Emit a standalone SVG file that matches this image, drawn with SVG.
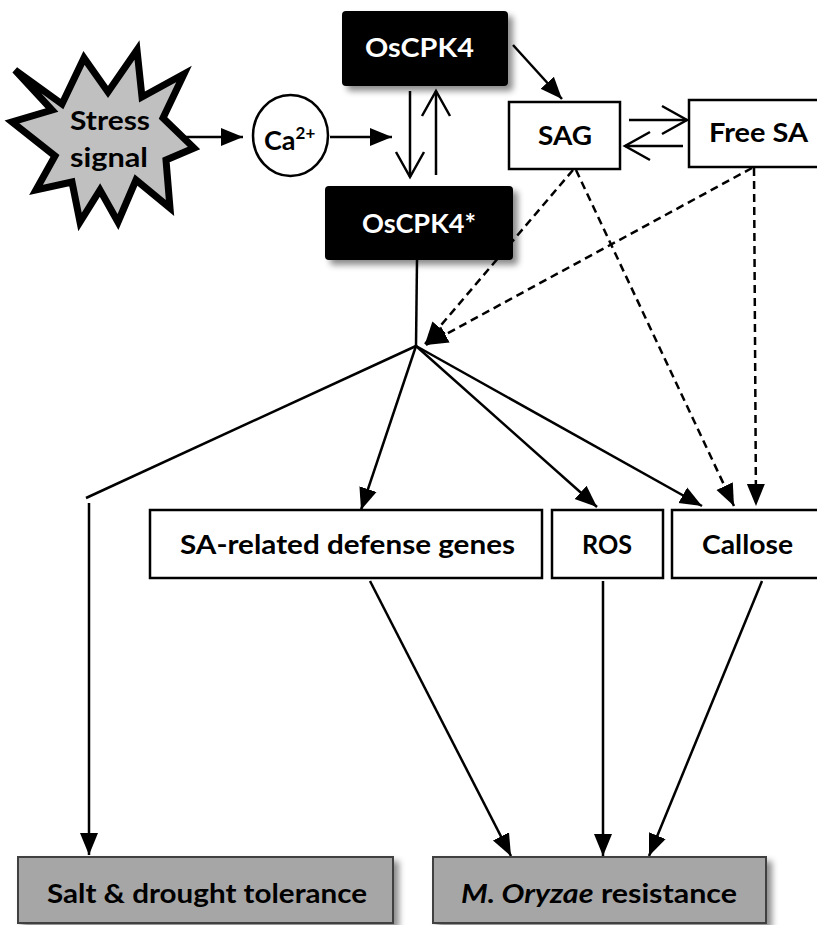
<svg xmlns="http://www.w3.org/2000/svg" width="817" height="925" viewBox="0 0 817 925">
<defs>
<style>
text{font-family:Lato,"Liberation Sans",sans-serif;font-weight:bold;font-size:27px;fill:#000}
.w{fill:#fff}
.box{fill:#fff;stroke:#000;stroke-width:2.5}
.blk{fill:#000;stroke:none}
.gry{fill:#a6a6a6;stroke:#404040;stroke-width:2}
.ln{fill:none;stroke:#000;stroke-width:2.5}
.ds{fill:none;stroke:#000;stroke-width:2.5;stroke-dasharray:8 5}
</style>
<marker id="ah" markerUnits="userSpaceOnUse" markerWidth="24" markerHeight="20" refX="22" refY="10" orient="auto" viewBox="0 0 24 20">
<path d="M0,1 L22,10 L0,19 z" fill="#000"/>
</marker>
<filter id="sh" x="-20%" y="-20%" width="150%" height="160%">
<feGaussianBlur in="SourceAlpha" stdDeviation="3"/>
<feOffset dx="5" dy="5" result="b"/>
<feFlood flood-color="#000" flood-opacity="0.45"/>
<feComposite in2="b" operator="in"/>
<feMerge><feMergeNode/><feMergeNode in="SourceGraphic"/></feMerge>
</filter>
</defs>
<rect width="817" height="925" fill="#fff"/>

<g id="connectors">
<line class="ln" x1="182" y1="137" x2="243" y2="137" marker-end="url(#ah)"/>
<line class="ln" x1="330" y1="137" x2="392" y2="137" marker-end="url(#ah)"/>
<polyline class="ln" points="410,91 410,177"/>
<polyline class="ln" points="396,152 410,177 424,152"/>
<polyline class="ln" points="436,175 436,91"/>
<polyline class="ln" points="422,116 436,91 450,116"/>
<line class="ln" x1="513" y1="45" x2="562" y2="99" marker-end="url(#ah)"/>
<polyline class="ln" points="629,120 687,120"/>
<polyline class="ln" points="662,106 687,120 662,134"/>
<polyline class="ln" points="683,146 625,146"/>
<polyline class="ln" points="650,132 625,146 650,160"/>
<line class="ds" x1="573" y1="170" x2="425" y2="344" marker-end="url(#ah)"/>
<line class="ds" x1="752" y1="168" x2="426" y2="345" marker-end="url(#ah)"/>
<line class="ds" x1="576" y1="170" x2="734" y2="506" marker-end="url(#ah)"/>
<line class="ds" x1="754" y1="168" x2="756" y2="506" marker-end="url(#ah)"/>
<line class="ln" x1="417" y1="260" x2="416" y2="346"/>
<line class="ln" x1="416" y1="346" x2="86" y2="498"/>
<line class="ln" x1="89" y1="503" x2="89" y2="855" marker-end="url(#ah)"/>
<line class="ln" x1="416" y1="346" x2="361" y2="510" marker-end="url(#ah)"/>
<line class="ln" x1="416" y1="346" x2="597" y2="507" marker-end="url(#ah)"/>
<line class="ln" x1="416" y1="346" x2="702" y2="506" marker-end="url(#ah)"/>
<line class="ln" x1="370" y1="581" x2="511" y2="856" marker-end="url(#ah)"/>
<line class="ln" x1="603" y1="581" x2="603" y2="856" marker-end="url(#ah)"/>
<line class="ln" x1="762" y1="581" x2="649" y2="856" marker-end="url(#ah)"/>
</g>

<g id="stress">
<polygon points="15,70 62,104 84,58 108,92 137,50 142,97 184,74 163,118 194,148 166,160 170,208 136,180 118,222 100,190 80,222 72,182 36,190 55,156 12,122 52,110" fill="#c0c0c0" stroke="#000" stroke-width="7" stroke-linejoin="miter"/>
<text x="110" y="130" text-anchor="middle" textLength="80" lengthAdjust="spacingAndGlyphs">Stress</text>
<text x="109" y="167" text-anchor="middle" textLength="78" lengthAdjust="spacingAndGlyphs">signal</text>
</g>

<g id="ca">
<ellipse cx="290.5" cy="135.5" rx="37.5" ry="40.5" fill="#fff" stroke="#000" stroke-width="2.5"/>
<text x="264" y="150">Ca<tspan font-size="17" dy="-11">2+</tspan></text>
</g>

<g id="oscpk4">
<rect class="blk" x="342" y="11" width="166" height="75" rx="4" filter="url(#sh)"/>
<text class="w" x="419.5" y="57" text-anchor="middle" textLength="109" lengthAdjust="spacingAndGlyphs">OsCPK4</text>
</g>

<g id="oscpk4star">
<rect class="blk" x="325" y="186" width="188" height="74" rx="4" filter="url(#sh)"/>
<text class="w" x="419" y="233" text-anchor="middle" textLength="114" lengthAdjust="spacingAndGlyphs">OsCPK4*</text>
</g>

<g id="sag">
<rect class="box" x="509" y="102" width="111" height="67"/>
<text x="565" y="145" text-anchor="middle" textLength="54" lengthAdjust="spacingAndGlyphs">SAG</text>
</g>

<g id="freesa">
<rect class="box" x="689" y="100" width="140" height="67"/>
<text x="758.5" y="142" text-anchor="middle" textLength="99" lengthAdjust="spacingAndGlyphs">Free SA</text>
</g>

<g id="sarelated">
<rect class="box" x="150" y="510" width="392" height="68"/>
<text x="347.5" y="554" text-anchor="middle" textLength="335" lengthAdjust="spacingAndGlyphs">SA-related defense genes</text>
</g>

<g id="ros">
<rect class="box" x="552" y="510" width="111" height="68"/>
<text x="607" y="554" text-anchor="middle" textLength="50" lengthAdjust="spacingAndGlyphs">ROS</text>
</g>

<g id="callose">
<rect class="box" x="672" y="510" width="160" height="68"/>
<text x="747.5" y="554" text-anchor="middle" textLength="91" lengthAdjust="spacingAndGlyphs">Callose</text>
</g>

<g id="salt">
<rect class="gry" x="18" y="857" width="375" height="66" filter="url(#sh)"/>
<text x="207" y="903" text-anchor="middle" textLength="320" lengthAdjust="spacingAndGlyphs">Salt &amp; drought tolerance</text>
</g>

<g id="moryzae">
<rect class="gry" x="433" y="857" width="333" height="66" filter="url(#sh)"/>
<text x="461" y="903" textLength="276" lengthAdjust="spacingAndGlyphs"><tspan font-style="italic">M. Oryzae</tspan> resistance</text>
</g>
</svg>
